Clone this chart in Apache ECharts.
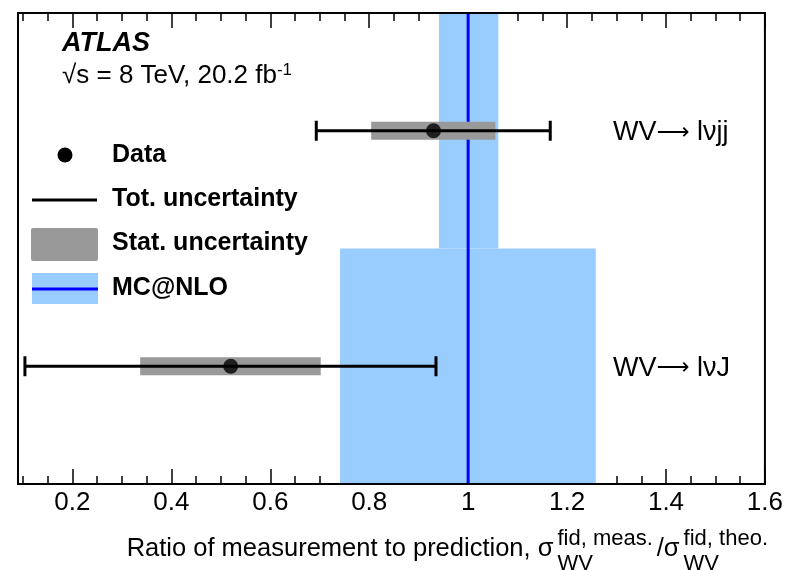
<!DOCTYPE html>
<html><head><meta charset="utf-8">
<script src="https://cdn.jsdelivr.net/npm/echarts@6/dist/echarts.min.js"></script>
<style>html,body{margin:0;padding:0;background:#fff}#c{width:786px;height:570px}</style>
</head><body><div id="c"></div>
<script>
// ---- data ----
const channels = ['WV', 'WV'];
const channelTails = [' l\u03bdJ', ' l\u03bdjj'];
const dataCentral = [0.52, 0.93];
const totLow = [0.104, 0.693];
const totHigh = [0.935, 1.166];
const statLow = [0.337, 0.804];
const statHigh = [0.702, 1.055];
const theoCentral = 1.0;
const theoLow = [0.741, 0.941];
const theoHigh = [1.258, 1.061];
const majorTicks = [0.2, 0.4, 0.6, 0.8, 1.0, 1.2, 1.4, 1.6];
const minorTicks = [0.1, 0.15, 0.25, 0.3, 0.35, 0.45, 0.5, 0.55, 0.65, 0.7, 0.75, 0.85, 0.9, 0.95,
  1.05, 1.1, 1.15, 1.25, 1.3, 1.35, 1.45, 1.5, 1.55];
const xMin = 0.09, xMax = 1.6;

const FONT = '"Liberation Sans", Arial, Helvetica, sans-serif';
const chart = echarts.init(document.getElementById('c'), null, {renderer: 'canvas'});

function mkX(position, values, len, labels) {
  return {
    type: 'value', position: position, min: xMin, max: xMax, gridIndex: 0,
    axisLine: {show: false}, splitLine: {show: false},
    axisTick: {show: true, inside: true, length: len, customValues: values,
      lineStyle: {color: '#000', width: 1.5}},
    axisLabel: labels ? {show: true, customValues: majorTicks, margin: 6,
      color: '#000', fontSize: 26, fontFamily: FONT,
      formatter: v => (Math.abs(v - 1) < 1e-9 ? '1' : v.toFixed(1))} : {show: false}
  };
}

const bandData = theoLow.map((lo, i) => [lo, theoHigh[i], i]);
const statData = statLow.map((lo, i) => [lo, statHigh[i], i + 0.5]);
const totData = totLow.map((lo, i) => [lo, totHigh[i], i + 0.5]);
const ptData = dataCentral.map((v, i) => [v, i + 0.5]);
const labelData = channels.map((c, i) => [1.293, i + 0.5, i]);

// x-axis title pieces
const cv = document.createElement('canvas').getContext('2d');
function tw(t, size) { cv.font = size + 'px ' + FONT; return cv.measureText(t).width; }
const tMain = 'Ratio of measurement to prediction, \u03c3';
const tSup1 = 'fid, meas.', tSub = 'WV', tMid = '/\u03c3', tSup2 = 'fid, theo.';
const MS = 25.5, SS = 22, GAP = 4;
const wMain = tw(tMain, MS) + GAP, wS1 = Math.max(tw(tSup1, SS), tw(tSub, SS)) + GAP,
  wMid = tw(tMid, MS) + GAP, wS2 = Math.max(tw(tSup2, SS), tw(tSub, SS));
const x0 = 768 - (wMain + wS1 + wMid + wS2);
const yMain = 549, ySup = 539, ySub = 564;
function gtext(t, x, y, font) {
  return {type: 'text', x: x, y: y, style: {text: t, font: font, fill: '#000', verticalAlign: 'middle', align: 'left'}};
}

const LF = 'bold 25px ' + FONT;
const graphics = [
  gtext('ATLAS', 62, 44, 'italic bold 27px ' + FONT),
  {type: 'text', x: 62, y: 76, style: {text: '\u221as = 8 TeV, 20.2 fb{sup|-1}', font: '26px ' + FONT, fill: '#000',
    verticalAlign: 'middle', rich: {sup: {fontSize: 17, fontFamily: FONT, verticalAlign: 'top', padding: [0, 0, 12, 0]}}}},
  // legend
  {type: 'circle', shape: {cx: 65, cy: 155, r: 7.5}, style: {fill: '#000'}},
  gtext('Data', 112, 155, LF),
  {type: 'line', shape: {x1: 32, y1: 200, x2: 97, y2: 200}, style: {stroke: '#000', lineWidth: 3}},
  gtext('Tot. uncertainty', 112, 199, LF),
  {type: 'rect', shape: {x: 31, y: 228, width: 67, height: 33, r: 2}, style: {fill: '#999999'}},
  gtext('Stat. uncertainty', 112, 243, LF),
  {type: 'rect', shape: {x: 32, y: 273, width: 66, height: 31}, style: {fill: '#99ccff'}},
  {type: 'line', shape: {x1: 32, y1: 289, x2: 98, y2: 289}, style: {stroke: '#0000ff', lineWidth: 3}},
  gtext('MC@NLO', 112, 288, LF),
  // x-axis title
  gtext(tMain, x0, yMain, MS + 'px ' + FONT),
  gtext(tSup1, x0 + wMain, ySup, SS + 'px ' + FONT),
  gtext(tSub, x0 + wMain, ySub, SS + 'px ' + FONT),
  gtext(tMid, x0 + wMain + wS1, yMain, MS + 'px ' + FONT),
  gtext(tSup2, x0 + wMain + wS1 + wMid, ySup, SS + 'px ' + FONT),
  gtext(tSub, x0 + wMain + wS1 + wMid, ySub, SS + 'px ' + FONT)
];

const option = {
  animation: false,
  backgroundColor: '#fff',
  grid: {left: 18, right: 20, top: 13, bottom: 86, show: true, borderColor: '#000', borderWidth: 2,
    backgroundColor: 'transparent', z: 10},
  xAxis: [mkX('bottom', majorTicks, 15, true), mkX('bottom', minorTicks, 8, false),
          mkX('top', majorTicks, 15, false), mkX('top', minorTicks, 8, false)],
  yAxis: [{type: 'value', min: 0, max: 2, show: false}],
  graphic: {elements: graphics},
  series: [
    {type: 'custom', name: 'MC@NLO band', data: bandData, encode: {x: [0, 1], y: 2}, z: 1,
      renderItem: (p, api) => {
        const i = api.value(2);
        const a = api.coord([api.value(0), i + 1]), b = api.coord([api.value(1), i]);
        return {type: 'rect', shape: {x: a[0], y: a[1], width: b[0] - a[0], height: b[1] - a[1]},
          style: {fill: '#99ccff'}};
      }},
    {type: 'line', name: 'MC@NLO', data: [[theoCentral, 0], [theoCentral, 2]], z: 2, symbol: 'none',
      lineStyle: {color: '#0000ff', width: 3}},
    {type: 'custom', name: 'Stat', data: statData, encode: {x: [0, 1], y: 2}, z: 3,
      renderItem: (p, api) => {
        const a = api.coord([api.value(0), api.value(2)]), b = api.coord([api.value(1), api.value(2)]);
        return {type: 'rect', shape: {x: a[0], y: a[1] - 9, width: b[0] - a[0], height: 18},
          style: {fill: '#999999'}};
      }},
    {type: 'custom', name: 'Tot', data: totData, encode: {x: [0, 1], y: 2}, z: 4,
      renderItem: (p, api) => {
        const a = api.coord([api.value(0), api.value(2)]), b = api.coord([api.value(1), api.value(2)]);
        const st = {stroke: '#000', lineWidth: 3};
        return {type: 'group', children: [
          {type: 'line', shape: {x1: a[0], y1: a[1], x2: b[0], y2: b[1]}, style: st},
          {type: 'line', shape: {x1: a[0], y1: a[1] - 10, x2: a[0], y2: a[1] + 10}, style: st},
          {type: 'line', shape: {x1: b[0], y1: b[1] - 10, x2: b[0], y2: b[1] + 10}, style: st}
        ]};
      }},
    {type: 'scatter', name: 'Data', data: ptData, symbol: 'circle', symbolSize: 15, z: 5,
      itemStyle: {color: '#000'}},
    {type: 'custom', name: 'labels', data: labelData, encode: {x: 0, y: 1}, z: 6,
      renderItem: (p, api) => {
        const c = api.coord([api.value(0), api.value(1)]);
        const i = api.value(2);
        return {type: 'text', style: {
          text: channels[i] + '{arr|\u27f6}' + channelTails[i],
          x: c[0], y: c[1] + 2, font: '27px ' + FONT, fill: '#000', verticalAlign: 'middle', align: 'left',
          rich: {arr: {fontFamily: '"DejaVu Sans"', fontSize: 23, padding: [0, 0, 0, 0]}}}};
      }}
  ]
};
chart.setOption(option);
</script></body></html>
